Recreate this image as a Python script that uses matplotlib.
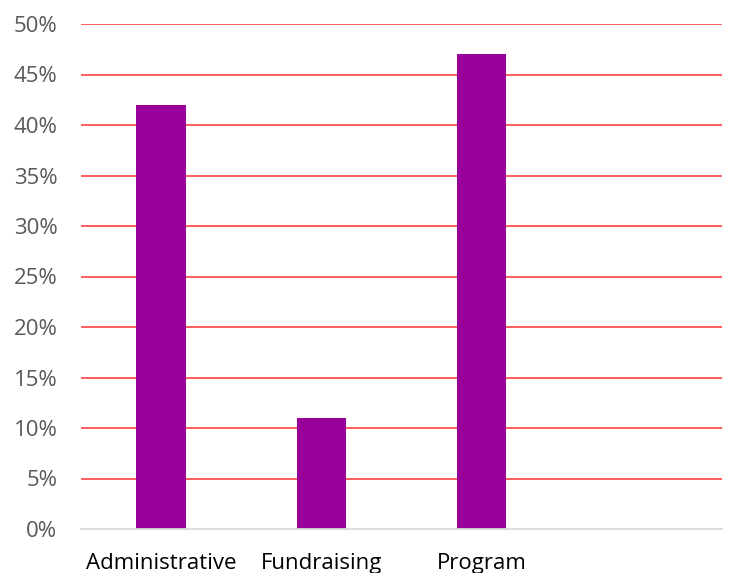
import matplotlib
matplotlib.use('Agg')
import matplotlib.pyplot as plt
from matplotlib.ticker import FuncFormatter

# Дані
categories = ['Administrative', 'Fundraising', 'Program']
values = [42, 11, 47]
yticks = [0, 5, 10, 15, 20, 25, 30, 35, 40, 45, 50]

plt.rcParams['font.family'] = ['Open Sans', 'DejaVu Sans']

fig = plt.figure(figsize=(7.3, 5.73), dpi=100)
ax = fig.add_axes([81 / 730, 44 / 573, 641 / 730, 505 / 573])

x = range(len(categories))
ax.bar(x, values, width=0.31, color='#990099', zorder=3)

ax.set_xlim(-0.5, 3.5)
ax.set_ylim(0, 50)
ax.set_yticks(yticks)
ax.yaxis.set_major_formatter(FuncFormatter(lambda v, p: f'{v:.0f}%'))
ax.set_xticks(list(x))
ax.set_xticklabels(categories, fontsize=16, color='black')

ax.tick_params(axis='y', length=0, pad=17, labelsize=16, labelcolor='#595959')
ax.tick_params(axis='x', length=0, pad=17)

for v in yticks[1:]:
    ax.axhline(v, color='#FF5050', linewidth=1.3, zorder=1)

for s in ['top', 'right', 'left']:
    ax.spines[s].set_visible(False)
ax.spines['bottom'].set_color('#D9D9D9')
ax.spines['bottom'].set_linewidth(1.3)
ax.spines['bottom'].set_zorder(4)

fig.savefig('out.png', dpi=100)
